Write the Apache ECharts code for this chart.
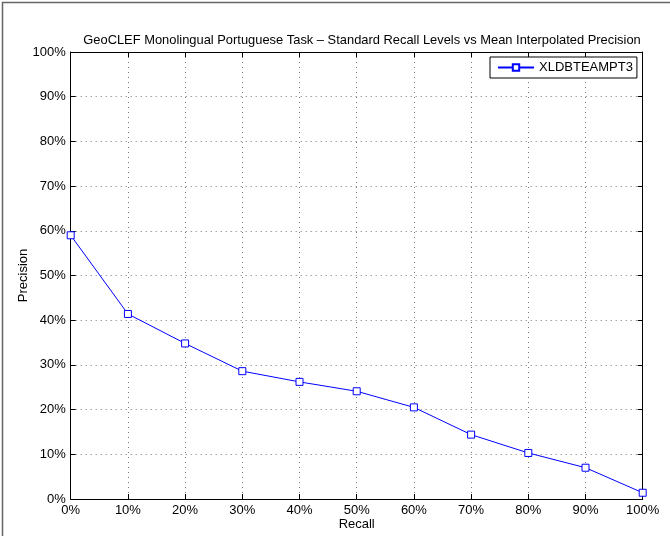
<!DOCTYPE html>
<html>
<head>
<meta charset="utf-8">
<script src="https://cdn.jsdelivr.net/npm/echarts@6/dist/echarts.min.js"></script>
<style>html,body{margin:0;padding:0;background:#fff}#c{width:670px;height:536px}</style>
</head>
<body>
<div id="c"></div>
<script>
const titleText = 'GeoCLEF Monolingual Portuguese Task \u2013 Standard Recall Levels vs Mean Interpolated Precision';
const seriesName = 'XLDBTEAMPT3';
const recall = [0, 10, 20, 30, 40, 50, 60, 70, 80, 90, 100];
const precision = [59.0, 41.4, 34.8, 28.6, 26.2, 24.1, 20.5, 14.4, 10.3, 7.0, 1.4];

const font = 'Liberation Sans, Arial, Helvetica, sans-serif';
const chart = echarts.init(document.getElementById('c'));
const gridLine = () => ({show: true, lineStyle: {color: '#777', width: 1, type: [1, 4]}});
const tick = () => ({show: true, inside: true, length: 5, lineStyle: {color: '#000', width: 1}});
const line = () => ({show: true, onZero: false, lineStyle: {color: '#000', width: 1}});
chart.setOption({
  backgroundColor: '#fff',
  animation: false,
  title: {
    text: titleText, left: 357, top: 29, textAlign: 'center',
    textStyle: {fontFamily: font, fontSize: 12.9, fontWeight: 'normal', color: '#000'}
  },
  graphic: [
    {type: 'polyline', shape: {points: [[2.5, 536], [2.5, 2.5], [670, 2.5]]}, style: {stroke: '#666', lineWidth: 1.5, fill: null}}
  ],
  legend: {
    left: 490, top: 57, padding: [4, 4, 4, 7],
    backgroundColor: '#fff', borderColor: '#000', borderWidth: 1, borderRadius: 0,
    itemWidth: 36, itemHeight: 8,
    textStyle: {fontFamily: font, fontSize: 13, color: '#000'},
    data: [seriesName]
  },
  grid: {left: 70.7, right: 27.3, top: 52, bottom: 33.5},
  xAxis: [{
    type: 'value', min: 0, max: 100, interval: 10, position: 'bottom',
    name: 'Recall', nameLocation: 'middle', nameGap: 19, nameMoveOverlap: false,
    nameTextStyle: {fontFamily: font, fontSize: 13, color: '#000'},
    axisLine: line(), axisTick: tick(),
    axisLabel: {formatter: '{value}%', margin: 5, fontFamily: font, fontSize: 13, color: '#000'},
    splitLine: gridLine()
  }, {
    type: 'value', min: 0, max: 100, interval: 10, position: 'top',
    axisLine: line(), axisTick: tick(), axisLabel: {show: false}, splitLine: {show: false}
  }],
  yAxis: [{
    type: 'value', min: 0, max: 100, interval: 10, position: 'left',
    name: 'Precision', nameLocation: 'middle', nameGap: 41, nameMoveOverlap: false,
    nameTextStyle: {fontFamily: font, fontSize: 13, color: '#000'},
    axisLine: line(), axisTick: tick(),
    axisLabel: {formatter: '{value}%', margin: 5, fontFamily: font, fontSize: 13, color: '#000'},
    splitLine: gridLine()
  }, {
    type: 'value', min: 0, max: 100, interval: 10, position: 'right',
    axisLine: line(), axisTick: tick(), axisLabel: {show: false}, splitLine: {show: false}
  }],
  series: [{
    name: seriesName, type: 'line',
    data: recall.map((r, i) => [r, precision[i]]),
    symbol: 'rect', symbolSize: 7, showSymbol: true,
    lineStyle: {color: '#0000ff', width: 1},
    itemStyle: {color: '#fff', borderColor: '#0000ff', borderWidth: 1},
    emphasis: {disabled: true}
  }]
});
</script>
</body>
</html>
